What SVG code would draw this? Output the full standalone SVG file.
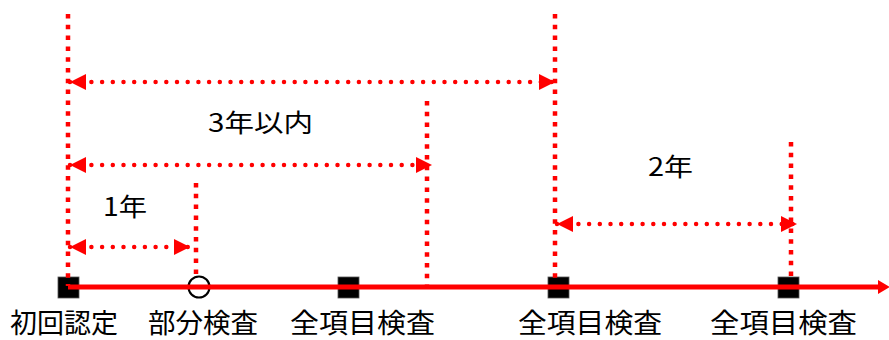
<svg xmlns="http://www.w3.org/2000/svg" width="889" height="340" viewBox="0 0 889 340">
  <style>
    .vdash { stroke: #ff0000; stroke-width: 4.5; stroke-dasharray: 4.5 6.3; fill: none; }
    .hdot { stroke: #ff0000; stroke-width: 4.5; stroke-linecap: round; stroke-dasharray: 0 10.7; fill: none; }
    .sq { fill: #000000; stroke: #555555; stroke-width: 0.8; }
    .lbl { font-family: "Noto Sans CJK JP", "Noto Sans CJK SC", sans-serif; font-size: 27px; fill: #000000; }
    .span { font-family: "Noto Sans CJK JP", "Noto Sans CJK SC", sans-serif; font-size: 25px; fill: #000000; }
  </style>
  <defs>
    <marker id="ah" markerUnits="userSpaceOnUse" markerWidth="16" markerHeight="16" viewBox="0 0 14 14" refX="14" refY="7" orient="auto-start-reverse">
      <path d="M0,0 L14,7 L0,14 Z" fill="#ff0000"/>
    </marker>
    <marker id="tl" markerUnits="userSpaceOnUse" markerWidth="14" markerHeight="16" viewBox="0 0 12 16" refX="2" refY="8" orient="auto">
      <path d="M0,1 L12,8 L0,15 Z" fill="#ff0000"/>
    </marker>
  </defs>

  <g id="node-shoki">
    <rect class="sq" x="58" y="277" width="21" height="21"/>
    <text class="lbl" x="10" y="333" textLength="108" lengthAdjust="spacingAndGlyphs">初回認定</text>
  </g>
  <g id="node-bubun">
    <circle cx="199" cy="287" r="10.5" fill="none" stroke="#000000" stroke-width="2.2"/>
    <text class="lbl" x="148" y="333" textLength="110" lengthAdjust="spacingAndGlyphs">部分検査</text>
  </g>
  <g id="node-zen1">
    <rect class="sq" x="338" y="277" width="21" height="21"/>
    <text class="lbl" x="290" y="333" textLength="145" lengthAdjust="spacingAndGlyphs">全項目検査</text>
  </g>
  <g id="node-zen2">
    <rect class="sq" x="548" y="277" width="21" height="21"/>
    <text class="lbl" x="518" y="333" textLength="144" lengthAdjust="spacingAndGlyphs">全項目検査</text>
  </g>
  <g id="node-zen3">
    <rect class="sq" x="778" y="277" width="21" height="21"/>
    <text class="lbl" x="710" y="333" textLength="147" lengthAdjust="spacingAndGlyphs">全項目検査</text>
  </g>

  <g id="connectors">
    <line class="vdash" x1="68" y1="14" x2="68" y2="286"/>
    <line class="vdash" x1="555" y1="14" x2="555" y2="284"/>
    <line class="vdash" x1="427" y1="101" x2="427" y2="285"/>
    <line class="vdash" x1="196" y1="183" x2="196" y2="275"/>
    <line class="vdash" x1="791" y1="142" x2="791" y2="280"/>

    <line x1="68" y1="287" x2="880" y2="287" stroke="#ff0000" stroke-width="5" marker-end="url(#tl)"/>

    <line class="hdot" x1="70" y1="82" x2="555" y2="82" marker-start="url(#ah)" marker-end="url(#ah)"/>
    <line class="hdot" x1="70" y1="165" x2="432" y2="165" marker-start="url(#ah)" marker-end="url(#ah)"/>
    <line class="hdot" x1="70" y1="247" x2="190" y2="247" marker-start="url(#ah)" marker-end="url(#ah)"/>
    <line class="hdot" x1="557" y1="224" x2="797" y2="224" marker-start="url(#ah)" marker-end="url(#ah)"/>
  </g>

  <g id="span-labels">
    <text class="span" x="208" y="132" textLength="105" lengthAdjust="spacingAndGlyphs">3年以内</text>
    <text class="span" x="103" y="216" textLength="44" lengthAdjust="spacingAndGlyphs">1年</text>
    <text class="span" x="648" y="176" textLength="45" lengthAdjust="spacingAndGlyphs">2年</text>
  </g>
</svg>
